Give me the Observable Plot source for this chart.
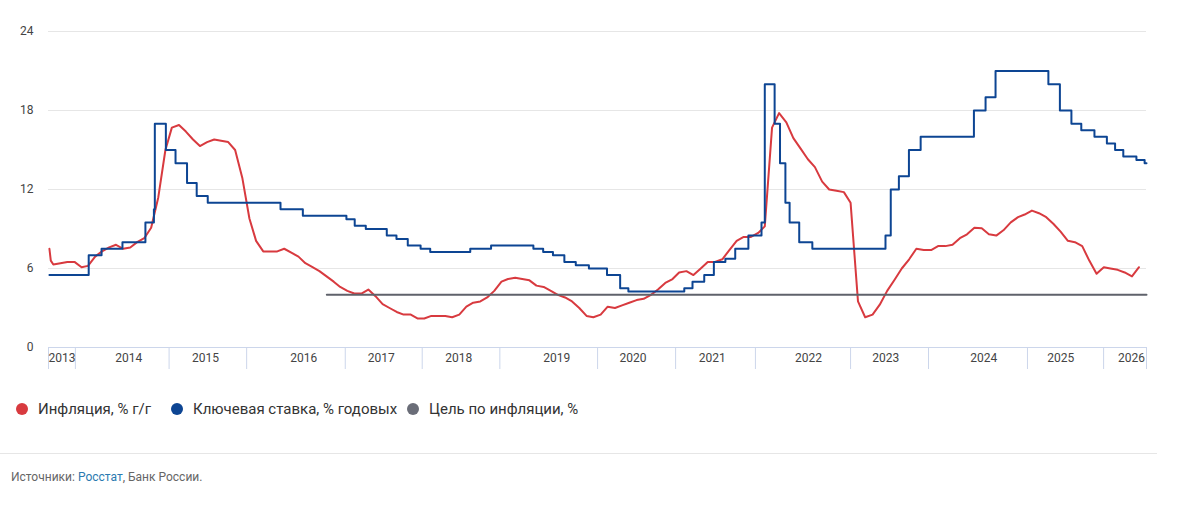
<!DOCTYPE html>
<html>
<head>
<meta charset="utf-8">
<script src="https://cdn.jsdelivr.net/npm/d3@7"></script>
<script src="https://cdn.jsdelivr.net/npm/@observablehq/plot@0.6"></script>
<style>
  html, body { margin: 0; padding: 0; background: #fff; }
  body { font-family: Roboto, "Liberation Sans", Arial, sans-serif; width: 1184px; height: 522px; position: relative; overflow: hidden; }
  #chart { position: absolute; left: 0; top: 0; }
  .leg { position: absolute; top: 400px; height: 18px; line-height: 18px; font-size: 15px; color: #333; white-space: nowrap; }
  .leg .dot { position: absolute; top: 3px; width: 12px; height: 12px; border-radius: 50%; }
  .rule { position: absolute; left: 0; top: 453px; width: 1157px; height: 1px; background: #e6e6e6; }
  .source { position: absolute; left: 11px; top: 469px; font-size: 12px; line-height: 16px; color: #666; }
  .source span { color: #2a7ab0; }
</style>
</head>
<body>
<div id="chart"></div>
<div class="leg" style="left:16px"><span class="dot" style="left:0;background:#d83a3f"></span><span style="padding-left:22px">Инфляция, % г/г</span></div>
<div class="leg" style="left:171px"><span class="dot" style="left:0;background:#0d4593"></span><span style="padding-left:22px">Ключевая ставка, % годовых</span></div>
<div class="leg" style="left:407px"><span class="dot" style="left:0;background:#6a6d78"></span><span style="padding-left:22px">Цель по инфляции, %</span></div>
<div class="rule"></div>
<div class="source">Источники: <span>Росстат</span>, Банк России.</div>
<script>
// ---- Inflation, % y/y ----
const inflationHeadDates = ["2013-09-13", "2013-09-19"];
const inflationHeadValues = [7.5, 6.6];
const inflationFirstMonthEnd = "2013-09"; // monthly values below start with Sep 2013 (month-end points)
const inflationMonthly = [
  6.3, 6.4, 6.5, 6.5,                                              // 2013 Sep–Dec
  6.1, 6.2, 6.9, 7.3, 7.6, 7.8, 7.5, 7.6, 8.0, 8.3, 9.1, 11.4,     // 2014
  15.0, 16.7, 16.9, 16.4, 15.8, 15.3, 15.6, 15.8, 15.7, 15.6, 15.0, 12.9, // 2015
  9.8, 8.1, 7.3, 7.3, 7.3, 7.5, 7.2, 6.9, 6.4, 6.1, 5.8, 5.4,      // 2016
  5.0, 4.6, 4.3, 4.1, 4.1, 4.4, 3.9, 3.3, 3.0, 2.7, 2.5, 2.5,      // 2017
  2.2, 2.2, 2.4, 2.4, 2.4, 2.3, 2.5, 3.1, 3.4, 3.5, 3.8, 4.3,      // 2018
  5.0, 5.2, 5.3, 5.2, 5.1, 4.7, 4.6, 4.3, 4.0, 3.8, 3.5, 3.0,      // 2019
  2.4, 2.3, 2.5, 3.1, 3.0, 3.2, 3.4, 3.6, 3.7, 4.0, 4.4, 4.9,      // 2020
  5.2, 5.7, 5.8, 5.5, 6.0, 6.5, 6.5, 6.7, 7.4, 8.1, 8.4, 8.4,      // 2021
  8.7, 9.2, 16.7, 17.8, 17.1, 15.9, 15.1, 14.3, 13.7, 12.6, 12.0, 11.9, // 2022
  11.8, 11.0, 3.5, 2.3, 2.5, 3.25, 4.3, 5.15, 6.0, 6.7, 7.5, 7.4,  // 2023
  7.4, 7.7, 7.7, 7.8, 8.3, 8.6, 9.1, 9.05, 8.6, 8.5, 8.9, 9.5,     // 2024
  9.9, 10.1, 10.4, 10.2, 9.9, 9.4, 8.8, 8.1, 8.0, 7.7, 6.6, 5.6,   // 2025
  6.1, 6.0, 5.9, 5.7, 5.4, 6.1                                     // 2026
];

// ---- Key rate, % p.a. (decision dates) ----
const rateDates = [
  "2013-09-13", "2014-03-03", "2014-04-28", "2014-07-28", "2014-11-05", "2014-12-12", "2014-12-16",
  "2015-02-02", "2015-03-16", "2015-05-05", "2015-06-16", "2015-08-03",
  "2016-06-14", "2016-09-19",
  "2017-03-27", "2017-05-02", "2017-06-19", "2017-09-18", "2017-10-30", "2017-12-18",
  "2018-02-12", "2018-03-26", "2018-09-17", "2018-12-17",
  "2019-06-17", "2019-07-29", "2019-09-09", "2019-10-28", "2019-12-16",
  "2020-02-10", "2020-04-27", "2020-06-22", "2020-07-27",
  "2021-03-22", "2021-04-26", "2021-06-15", "2021-07-26", "2021-09-13", "2021-10-25", "2021-12-20",
  "2022-02-14", "2022-02-28", "2022-04-11", "2022-05-04", "2022-05-27", "2022-06-14", "2022-07-25", "2022-09-19",
  "2023-07-24", "2023-08-15", "2023-09-18", "2023-10-30", "2023-12-18",
  "2024-07-29", "2024-09-16", "2024-10-28",
  "2025-06-09", "2025-07-28", "2025-09-15", "2025-10-27", "2025-12-22",
  "2026-02-13", "2026-03-20", "2026-04-24", "2026-06-19", "2026-07-24", "2026-08-01"
];
const rateValues = [
  5.5, 7.0, 7.5, 8.0, 9.5, 10.5, 17.0,
  15.0, 14.0, 12.5, 11.5, 11.0,
  10.5, 10.0,
  9.75, 9.25, 9.0, 8.5, 8.25, 7.75,
  7.5, 7.25, 7.5, 7.75,
  7.5, 7.25, 7.0, 6.5, 6.25,
  6.0, 5.5, 4.5, 4.25,
  4.5, 5.0, 5.5, 6.5, 6.75, 7.5, 8.5,
  9.5, 20.0, 17.0, 14.0, 11.0, 9.5, 8.0, 7.5,
  8.5, 12.0, 13.0, 15.0, 16.0,
  18.0, 19.0, 21.0,
  20.0, 18.0, 17.0, 16.5, 16.0,
  15.5, 15.0, 14.5, 14.25, 14.0, 14.0
];

// ---- Inflation target, % ----
const targetDates = ["2017-01-01", "2026-08-01"];
const targetValues = [4, 4];

// ---- Axis ticks ----
const yTicks = [0, 6, 12, 18, 24];
const yearSeparatorDates = ["2013-09-09", "2014-01-04", "2015-02-16", "2016-01-19", "2017-03-22", "2018-02-19",
  "2019-01-24", "2020-03-18", "2021-02-13", "2022-01-19", "2023-02-28", "2024-01-20", "2025-03-12", "2026-01-30", "2026-08-01"];
const yearLabelDates = ["2013-11-07", "2014-08-24", "2015-07-24", "2016-09-23", "2017-08-25", "2018-07-29",
  "2019-09-25", "2020-08-16", "2021-07-19", "2022-09-03", "2023-07-25", "2024-09-08", "2025-08-01", "2026-05-29"];

// ---- build tables ----
const parse = (s) => new Date(s + (s.length === 7 ? "-01" : "") + "T00:00:00Z");
const monthStart = parse(inflationFirstMonthEnd);
const inflation = [
  ...inflationHeadDates.map((d, i) => ({date: parse(d), value: inflationHeadValues[i]})),
  ...inflationMonthly.map((v, i) => ({date: d3.utcDay.offset(d3.utcMonth.offset(monthStart, i + 1), -1), value: v}))
];
const rate = rateDates.map((d, i) => ({date: parse(d), value: rateValues[i]}));
const target = targetDates.map((d, i) => ({date: parse(d), value: targetValues[i]}));

// piecewise time scale reproducing the reference's uneven year widths
const xAnchorDates = ["2013-09-09", "2014-01-01", "2015-01-01", "2016-01-01", "2017-01-01", "2018-01-01", "2019-01-01",
  "2020-01-01", "2021-01-01", "2022-01-01", "2023-01-01", "2024-01-01", "2025-01-01", "2026-01-01", "2026-08-01"].map(parse);
const xAnchorRange = [48, 74.2, 158, 242, 326.3, 410.5, 494, 579, 665, 750.7, 836.2, 923.5, 1010.5, 1096.3, 1146];

const chart = Plot.plot({
  width: 1184,
  height: 380,
  marginLeft: 48,
  marginRight: 38,
  marginTop: 31,
  marginBottom: 33,
  style: {fontFamily: "Roboto, 'Liberation Sans', Arial, sans-serif", fontSize: "12px", color: "#444", background: "#fff"},
  x: {type: "utc", domain: xAnchorDates, range: xAnchorRange},
  y: {domain: [0, 24]},
  marks: [
    Plot.gridY(yTicks.filter((d) => d > 0), {stroke: "#e6e6e6", strokeOpacity: 1}),
    Plot.ruleY([0], {stroke: "#ccd6eb"}),
    Plot.axisY({ticks: yTicks, tickSize: 0, tickPadding: 15, label: null, fill: "#444"}),
    Plot.axisX({ticks: yearSeparatorDates.map(parse), tickSize: 22, tickFormat: () => "", stroke: "#ccd6eb", strokeOpacity: 1, label: null}),
    Plot.axisX({ticks: yearLabelDates.map(parse), tickSize: 0, tickPadding: 5.5, tickFormat: "%Y", label: null, fill: "#444"}),
    Plot.line(inflation, {x: "date", y: "value", stroke: "#d83a3f", strokeWidth: 2}),
    Plot.line(rate, {x: "date", y: "value", curve: "step-after", stroke: "#0d4593", strokeWidth: 2}),
    Plot.line(target, {x: "date", y: "value", stroke: "#5f626b", strokeWidth: 2})
  ]
});
document.getElementById("chart").append(chart);
</script>
</body>
</html>
